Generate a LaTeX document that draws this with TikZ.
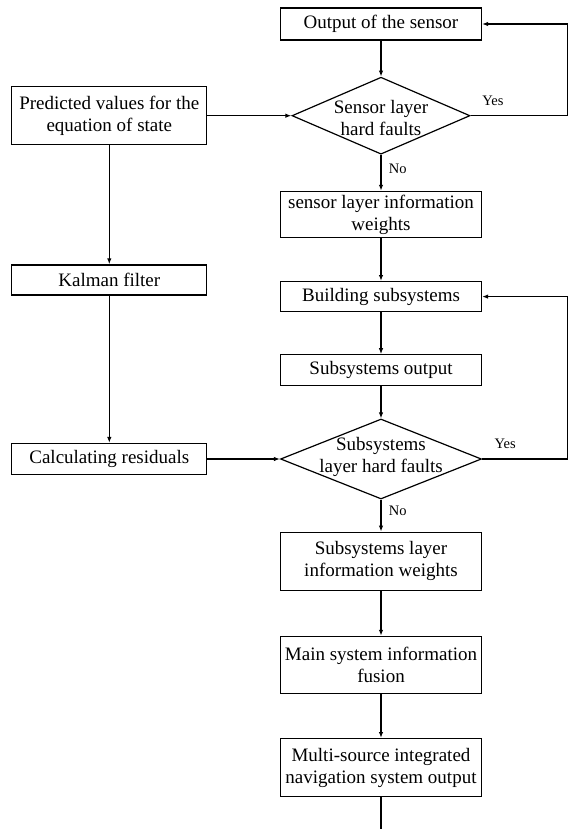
\documentclass[tikz,border=0pt]{standalone}
\usepackage{fontspec}
\setmainfont{Liberation Serif}
\usetikzlibrary{arrows.meta,positioning,shapes.geometric}

\begin{document}
\begin{tikzpicture}[>={Latex[length=6pt,width=4.5pt]}, line width=1.2pt]

  % Styles
  \tikzset{
    box/.style={draw, rectangle, minimum width=201pt, inner sep=2pt, align=center, font=\fontsize{19pt}{22pt}\selectfont},
    lbox/.style={box, minimum width=195pt},
    decision/.style={draw, diamond, inner sep=0pt},
    dtext/.style={align=center, font=\fontsize{19pt}{22pt}\selectfont},
    yn/.style={font=\fontsize{14.5pt}{16pt}\selectfont}
  }

  \useasboundingbox (0,0) rectangle (568pt,-829pt);

  % Sensor layer
  \node[box, minimum height=32pt] (out) at (381pt,-24pt) {Output of the sensor};
  \node[decision, minimum width=178pt, minimum height=77pt, below=36pt of out,
        label={[dtext, yshift=-2.5pt]center:Sensor layer\\hard faults}] (dia1) {};
  \node[box, minimum height=46pt, below=36pt of dia1] (w1) {sensor layer information\\weights};

  % Subsystem layer
  \node[box, minimum height=30pt, below=43pt of w1] (build) {Building subsystems};
  \node[box, minimum height=31pt, below=42pt of build] (subout) {Subsystems output};
  \node[decision, minimum width=201pt, minimum height=80pt, below=32pt of subout,
        label={[dtext, yshift=2.5pt]center:Subsystems\\layer hard faults}] (dia2) {};
  \node[box, minimum height=58pt, below=32pt of dia2] (w2) {Subsystems layer\\information weights};

  % Main system
  \node[box, minimum height=57pt, below=45pt of w2] (fuse) {Main system information\\fusion};
  \node[box, minimum height=58pt, below=44pt of fuse] (multi) {Multi-source integrated\\navigation system output};
  \coordinate[below=40pt of multi] (end);

  % Left column
  \node[lbox, minimum height=58pt, left=84pt of dia1] (pred) {Predicted values for the\\equation of state};
  \node[lbox, minimum height=30pt, below=119pt of pred] (kal) {Kalman filter};
  \node[lbox, minimum height=31pt, left=72.5pt of dia2] (calc) {Calculating residuals};

  % Loop corners
  \coordinate[right=97pt of dia1] (r1);
  \coordinate[right=85.5pt of dia2] (r2);

  % Connectors
  \draw[->] (out) -- (dia1);
  \draw[->] (dia1) -- node[yn, right=4pt, pos=0.4] {No} (w1);
  \draw[->] (dia1.east) -- node[yn, above=6pt, pos=0.23] {Yes} (r1) |- (out.east);
  \draw[->] (w1) -- (build);
  \draw[->] (build) -- (subout);
  \draw[->] (subout) -- (dia2);
  \draw[->] (dia2) -- node[yn, right=4pt, pos=0.35] {No} (w2);
  \draw[->] (dia2.east) -- node[yn, above=6pt, pos=0.27] {Yes} (r2) |- (build.east);
  \draw[->] (w2) -- (fuse);
  \draw[->] (fuse) -- (multi);
  \draw[->] (multi) -- (end);

  \draw[->] (pred) -- (dia1);
  \draw[->] (pred) -- (kal);
  \draw[->] (kal) -- (calc);
  \draw[->] (calc) -- (dia2);

\end{tikzpicture}
\end{document}
